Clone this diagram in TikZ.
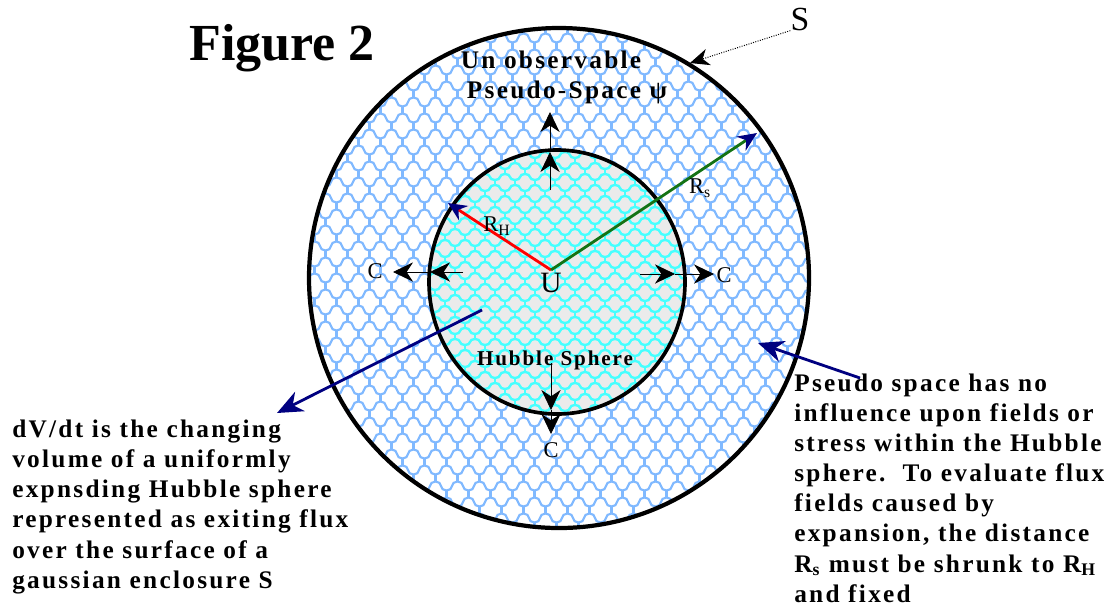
\documentclass[tikz,border=0pt]{standalone}
\usepackage{fontspec}
\setmainfont{Liberation Serif}
\newfontfamily\notefont[LetterSpace=9]{Liberation Serif}
\usetikzlibrary{arrows.meta}
\definecolor{pseudoblue}{RGB}{128,185,255}
\definecolor{hubblecyan}{RGB}{70,255,255}
\definecolor{hubblegray}{RGB}{235,235,235}
\definecolor{notenavy}{RGB}{0,0,128}
\definecolor{rsgreen}{RGB}{20,115,20}
\tikzset{
  notetext/.style={font=\notefont\bfseries\fontsize{18}{21.35}\selectfont, align=left, inner sep=0pt},
  tag/.style={font=\notefont\bfseries\fontsize{18}{21.35}\selectfont, inner sep=0pt},
  flux/.style={line width=0.6pt, -{Stealth[length=5mm,width=4.8mm,inset=1.6mm]}},
  pointer/.style={notenavy, line width=2pt, -{Stealth[length=6.4mm,width=5.4mm,inset=2mm]}},
}

\begin{document}
\begin{tikzpicture}[x=0.25mm, y=-0.25mm, >=Stealth]
    \useasboundingbox (0,0) rectangle (1112,609);
    \coordinate (S0) at (559,278);
    \coordinate (H0) at (557,282);
    \coordinate (U0) at (551,270);

    % pseudo space shell
    \fill[white] (S0) circle[radius=250];
    \begin{scope}
        \clip (S0) circle[radius=250];
        \foreach \r in {0,...,32}{
            \pgfmathsetmacro\yy{22+16*\r}
            \pgfmathsetmacro\xx{298+11*mod(\r,2)}
            \draw[pseudoblue, line width=1.5pt] (\xx,\yy)
                \foreach \c in {1,...,24}{
                    arc[start angle=180, end angle=0, x radius=5.5, y radius=4.5]
                    arc[start angle=180, end angle=360, x radius=5.5, y radius=4.5]};
            \foreach \c in {0,...,23}
                \draw[pseudoblue, line width=1.5pt] ({\xx+5.5+22*\c},{\yy+4.5}) -- ++(0,7);
        }
    \end{scope}

    % hubble sphere
    \fill[hubblegray] (H0) ellipse[x radius=128, y radius=132];
    \begin{scope}
        \clip (H0) ellipse[x radius=128, y radius=132];
        \foreach \r in {0,...,25}{
            \pgfmathsetmacro\yy{144+11*\r}
            \pgfmathsetmacro\xx{420+10*mod(\r,2)}
            \draw[hubblecyan, line width=1.7pt] (\xx,\yy)
                \foreach \c in {1,...,14}{
                    arc[start angle=180, end angle=0, x radius=5, y radius=3]
                    arc[start angle=180, end angle=360, x radius=5, y radius=3]};
            \foreach \c in {0,...,13}
                \draw[hubblecyan, line width=1.7pt] ({\xx+5+20*\c},{\yy+3}) -- ++(0,5);
        }
    \end{scope}

    \draw[line width=3pt] (S0) circle[radius=250];
    \draw[line width=2.6pt] (H0) ellipse[x radius=128, y radius=132];

    % radii
    \coordinate (RH) at (448,203);
    \coordinate (RS) at (757,133);
    \draw[red, line width=2pt, -{Stealth[color=notenavy, length=4.6mm, width=4.2mm]}] (U0) -- (RH);
    \draw[rsgreen, line width=2pt, -{Stealth[color=notenavy, length=4.8mm, width=4.2mm]}] (U0) -- (RS);
    \node[inner sep=0pt, font=\fontsize{16}{18}\selectfont] (rhlab) at (497,226) {R\textsubscript{H}};
    \node[inner sep=0pt, font=\fontsize{16}{18}\selectfont] (rslab) at (700,188) {R\textsubscript{s}};

    % flux arrows
    \coordinate (T0) at (550,190); \coordinate (T1) at (550,152); \coordinate (T2) at (550,112);
    \coordinate (L0) at (463,272); \coordinate (L1) at (430,272); \coordinate (L2) at (393,272);
    \coordinate (R0) at (640,274); \coordinate (R1) at (675,274); \coordinate (R2) at (714,274);
    \coordinate (B0) at (551,363); \coordinate (B1) at (551,410); \coordinate (B2) at (551,434);
    \draw[flux] (T0) -- (T1); \draw[flux] (T1) -- (T2);
    \draw[flux] (L0) -- (L1); \draw[flux] (L1) -- (L2);
    \draw[flux] (R0) -- (R1); \draw[flux] (R1) -- (R2);
    \draw[flux] (B0) -- (B1); \draw[flux] (B1) -- (B2);
    \node[inner sep=0pt, font=\fontsize{16}{18}\selectfont] (cleft) at (375,271) {C};
    \node[inner sep=0pt, font=\fontsize{16}{18}\selectfont] (cright) at (724,275) {C};
    \node[inner sep=0pt, font=\fontsize{16}{18}\selectfont] (cbottom) at (551,450) {C};

    \node[inner sep=0pt, font=\fontsize{21}{24}\selectfont, anchor=base] (U) at (551,292) {U};
    \node[tag, anchor=base] (unobs) at (551,68) {Un observable};
    \node[tag, anchor=base] (pseudo) at (567,98) {Pseudo-Space ψ};
    \node[tag, font=\notefont\bfseries\fontsize{15}{18}\selectfont, anchor=base] (hubble) at (555,365) {Hubble Sphere};

    \node[font=\bfseries\fontsize{37}{40}\selectfont, anchor=base, inner sep=0pt] (fig) at (282,60) {Figure 2};
    \node[font=\fontsize{24}{26}\selectfont, anchor=base, inner sep=0pt] (slabel) at (800,30) {S};
    \coordinate (stip) at (690,63);
    \draw[densely dotted, line width=0.7pt, -{Stealth[length=4.8mm,width=4.2mm,inset=1.5mm]}] (slabel.south west) -- (stip);

    % notes
    \node[notetext, anchor=base west] (leftnote) at (12,588) {dV/dt is the changing\\
        volume of a uniformly\\
        expnsding Hubble sphere\\
        represented as exiting flux\\
        over the surface of a\\
        gaussian enclosure S};
    \node[notetext, anchor=base west] (rightnote) at (794,602) {Pseudo space has no\\
        influence upon fields or\\
        stress within the Hubble\\
        sphere.\ \ To evaluate flux\\
        fields caused by\\
        expansion, the distance\\
        R\textsubscript{s} must be shrunk to R\textsubscript{H}\\
        and fixed};
    \coordinate (dvsrc) at (482,310);
    \coordinate (dvtip) at (277,413);
    \coordinate (pssrc) at (860,378);
    \coordinate (pstip) at (758,343);
    \draw[pointer] (dvsrc) -- (dvtip);
    \draw[pointer] (pssrc) -- (pstip);
\end{tikzpicture}
\end{document}
